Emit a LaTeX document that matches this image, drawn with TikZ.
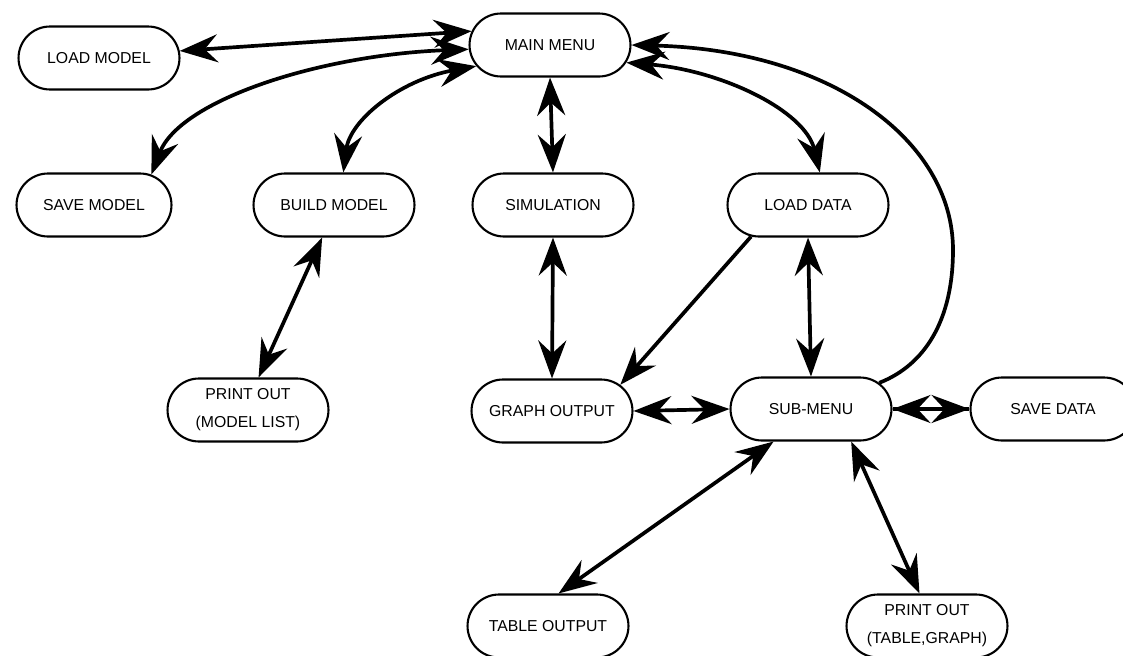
\documentclass[tikz,border=0pt]{standalone}
\usepackage{fontspec}
\setmainfont{Liberation Sans}
\usetikzlibrary{arrows.meta,shapes.misc}

\begin{document}
\begin{tikzpicture}[
x=0.02cm, y=-0.02cm,
>={Stealth[length=.76cm,width=.56cm,inset=.26cm]},
menu/.style={draw, rounded rectangle, line width=1.2pt, minimum width=\w, minimum height=\h, inner sep=2pt, align=center, font=\fontsize{9}{16}\selectfont},
link/.style={line width=2.1pt, <->},
oneway/.style={line width=2.1pt, ->}
]

\def\w{3.36cm}
\def\h{1.26cm}

\useasboundingbox (0,0) rectangle (1123,656);

%%% top rows
\node[menu] (loadmodel) at (99,58) {LOAD MODEL};
\node[menu] (mainmenu) at (550,45) {MAIN MENU};
\node[menu, minimum width=3.24cm] (savemodel) at (94,205) {SAVE MODEL};
\node[menu] (buildmodel) at (334,205) {BUILD MODEL};
\node[menu] (simulation) at (553,205) {SIMULATION};
\node[menu] (loaddata) at (808,205) {LOAD DATA};

%%% lower rows
\node[menu] (printmodel) at (248,410) {PRINT OUT\\(MODEL LIST)};
\node[menu] (graphout) at (552,411) {GRAPH OUTPUT};
\node[menu] (submenu) at (811,409) {SUB-MENU};
\node[menu, minimum width=3.44cm] (savedata) at (1053,409) {SAVE DATA};
\node[menu] (tableout) at (548,626) {TABLE OUTPUT};
\node[menu] (printtable) at (927,626) {PRINT OUT\\(TABLE,GRAPH)};

\coordinate (bend) at (953,250);

%%% straight links
\foreach \a/\b in {
	loadmodel.5/mainmenu.170,
	mainmenu.south/simulation.north,
	buildmodel.250/printmodel.72,
	simulation.south/graphout.north,
	loaddata.south/submenu.north,
	graphout.east/submenu.west,
	submenu.221/tableout.72,
	submenu.321/printtable.103
	}{
	\draw[link] (\a) -- (\b);
	}

% short gap: two full heads meet
\draw[oneway] (submenu.east) -- (savedata.west);
\draw[oneway] (savedata.west) -- (submenu.east);

%%% curved links
\draw[link] (savemodel.28) .. controls (180,100) and (320,55) .. (mainmenu.183);
\draw[link] (buildmodel.74) .. controls (350,120) and (400,80) .. (mainmenu.196);
\draw[link] (mainmenu.347) .. controls (720,70) and (805,110) .. (loaddata.70);
\draw[oneway] (loaddata.209) -- (graphout.21);
\draw[oneway] (submenu.21) .. controls (925,365) and (953,320) .. (bend)
	.. controls (953,140) and (830,50) .. (mainmenu.east);

\end{tikzpicture}
\end{document}
